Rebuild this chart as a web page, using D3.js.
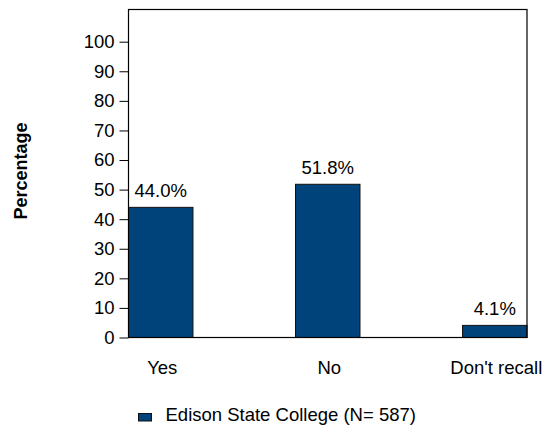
<!DOCTYPE html>
<html>
<head>
<meta charset="utf-8">
<script src="https://cdn.jsdelivr.net/npm/d3@7"></script>
<style>
  html, body { margin: 0; padding: 0; background: #fff; }
  svg { display: block; font-family: Arial, "Liberation Sans", sans-serif; }
</style>
</head>
<body>
<svg id="chart" width="542" height="427"></svg>
<script>
const categories = ["Yes", "No", "Don't recall"];
const values = [44.0, 51.8, 4.1];
const valueLabels = ["44.0%", "51.8%", "4.1%"];
const yTicks = [0, 10, 20, 30, 40, 50, 60, 70, 80, 90, 100];
const seriesName = "Edison State College (N= 587)";
const yTitle = "Percentage";

(function () {
const svg = d3.select("#chart");
const pLeft = 128.5, pRight = 527, pTop = 9.5, pBottom = 337.5;
const barColor = "#00427a";
const fs = 18.5;

const x = d3.scaleBand().domain(categories).range([pLeft, pRight]).paddingInner(0.614).paddingOuter(0);
const y = d3.scaleLinear().domain([0, 100]).range([pBottom, 41.7]);

// bars
svg.append("g").selectAll("rect").data(values).join("rect")
  .attr("x", (d, i) => x(categories[i]))
  .attr("y", d => y(d))
  .attr("width", x.bandwidth())
  .attr("height", d => pBottom - y(d))
  .attr("fill", barColor)
  .attr("stroke", "#111")
  .attr("stroke-width", 1);

// frame
svg.append("rect")
  .attr("x", pLeft).attr("y", pTop)
  .attr("width", pRight - pLeft).attr("height", pBottom - pTop)
  .attr("fill", "none").attr("stroke", "#000").attr("stroke-width", 1.2);

// y axis
const yAxis = d3.axisLeft(y).tickValues(yTicks).tickSize(9).tickPadding(5).tickFormat(d3.format("d"));
const ga = svg.append("g").attr("transform", `translate(${pLeft},0)`).call(yAxis);
ga.select(".domain").remove();
ga.selectAll(".tick line").attr("stroke", "#000");
ga.selectAll(".tick text").attr("fill", "#000").style("font-size", fs + "px")
  .style("font-family", "Arial, 'Liberation Sans', sans-serif");

// x labels
const xAxis = d3.axisBottom(x).tickSize(0).tickPadding(0);
const gx = svg.append("g").attr("transform", `translate(1.5,${pBottom})`).call(xAxis);
gx.select(".domain").remove();
gx.selectAll(".tick text").attr("fill", "#000").attr("dy", null).attr("y", 36)
  .style("font-size", fs + "px").style("font-family", "Arial, 'Liberation Sans', sans-serif");

// value labels
svg.append("g").selectAll("text").data(values).join("text")
  .attr("x", (d, i) => x(categories[i]) + x.bandwidth() / 2)
  .attr("y", d => y(d) - 10.4)
  .attr("text-anchor", "middle")
  .style("font-size", fs + "px")
  .attr("fill", "#000")
  .text((d, i) => valueLabels[i]);

// y title
svg.append("text")
  .attr("transform", "translate(26.5,171) rotate(-90)")
  .attr("text-anchor", "middle")
  .style("font-size", "18px").style("font-weight", "bold")
  .attr("fill", "#000")
  .text(yTitle);

// legend
const lg = svg.append("g");
lg.append("rect").attr("x", 138.5).attr("y", 413.5).attr("width", 13).attr("height", 7.5)
  .attr("fill", barColor).attr("stroke", "#111").attr("stroke-width", 1);
lg.append("text").attr("x", 165.5).attr("y", 421)
  .style("font-size", fs + "px").attr("fill", "#000").text(seriesName);
})();
</script>
</body>
</html>
